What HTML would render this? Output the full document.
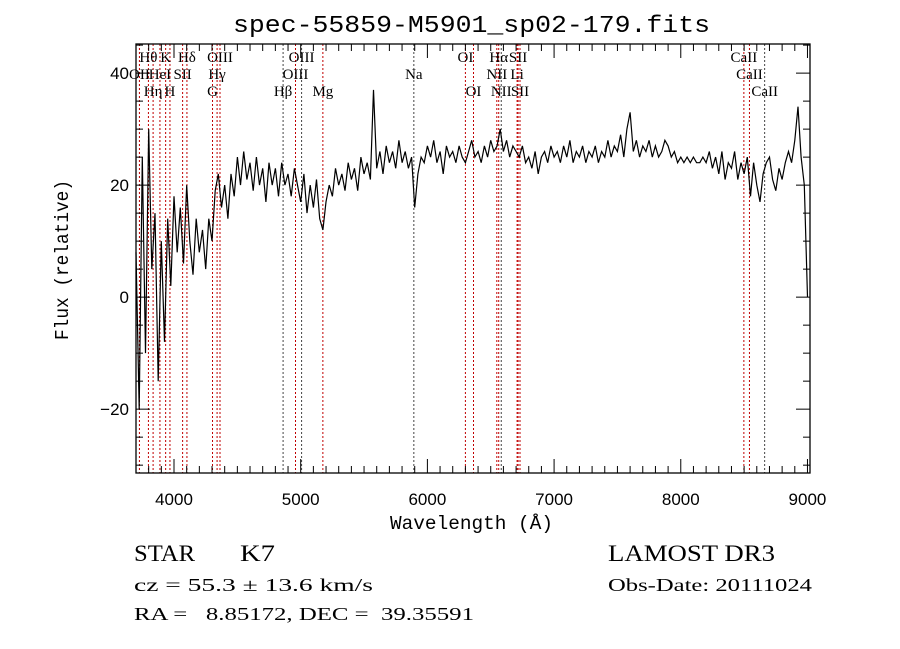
<!DOCTYPE html>
<html><head><meta charset="utf-8"><style>
html,body{margin:0;padding:0;background:#fff;}
svg{display:block;}
.t{font-family:"Liberation Serif",serif;fill:#000;}
.s{font-family:"Liberation Sans",sans-serif;fill:#000;}
.m{font-family:"Liberation Mono",monospace;fill:#000;}
</style></head><body>
<svg id="chart" width="900" height="649" viewBox="0 0 900 649" xmlns="http://www.w3.org/2000/svg">
<rect width="900" height="649" fill="#fff"/>
<text x="233" y="32" class="m" font-size="24" textLength="477" lengthAdjust="spacingAndGlyphs">spec-55859-M5901_sp02-179.fits</text>
<g id="lines"></g>
<g id="labels"></g>
<g id="ticks"></g>
<path id="spec" fill="none" stroke="#000" stroke-width="1.2"/>
<rect x="136" y="44" width="674" height="429" fill="none" stroke="#000" stroke-width="1.3"/>
<text x="390" y="529" class="m" font-size="19" textLength="163" lengthAdjust="spacingAndGlyphs">Wavelength (Å)</text>
<text transform="translate(68,340) rotate(-90)" class="m" font-size="19" textLength="160" lengthAdjust="spacingAndGlyphs">Flux (relative)</text>
<text x="134" y="561" class="t" font-size="23" textLength="61" lengthAdjust="spacingAndGlyphs">STAR</text>
<text x="240" y="561" class="t" font-size="23" textLength="35" lengthAdjust="spacingAndGlyphs">K7</text>
<text x="608" y="561" class="t" font-size="23" textLength="167" lengthAdjust="spacingAndGlyphs">LAMOST DR3</text>
<text x="134" y="591" class="t" font-size="18" textLength="239" lengthAdjust="spacingAndGlyphs">cz = 55.3 ± 13.6 km/s</text>
<text x="608" y="591" class="t" font-size="18" textLength="204" lengthAdjust="spacingAndGlyphs">Obs-Date: 20111024</text>
<text x="134" y="620" class="t" font-size="18" textLength="340" lengthAdjust="spacingAndGlyphs" xml:space="preserve">RA =   8.85172, DEC =  39.35591</text>
</svg>
<script>
const wlStart = 3700;
const wlStep = 25;
const flux = [8,-20,25,-10,30,5,15,-15,10,-8,14,2,18,8,16,6,20,10,4,14,8,12,5,14,10,19,22,16,20,14,22,18,25,20,26,21,24,19,25,20,23,17,24,20,23,18,24,20,22,18,23,20,17,22,15,20,16,21,14,12,17,20,18,23,20,22,19,24,21,23,19,25,22,24,21,37,23,26,22,27,24,26,23,28,24,26,23,25,16,22,25,24,27,25,28,24,26,22,27,25,26,24,27,25,24,26,28,25,26,24,27,25,28,26,27,30,26,28,25,27,26,25,27,24,25,23,26,22,25,26,24,27,25,26,24,27,25,28,24,26,25,27,24,26,25,27,24,26,25,28,25,27,26,29,25,30,33,26,28,25,27,26,28,25,27,25,26,28,27,25,26,24,25,24,25,24,25,24,24,25,24,26,23,25,22,26,21,24,23,26,21,24,22,25,18,24,20,17,22,24,25,21,19,23,21,24,26,24,28,34,25,20,0];
const lineWl = [3727,3798,3835,3889,3934,3968,4068,4102,4304,4340,4363,4861,4959,5007,5175,5893,6300,6364,6548,6563,6583,6708,6716,6731,8498,8542,8662];
const lineName = ["OII","Hθ","Hη","HeI","K","H","SII","Hδ","G","Hγ","OIII","Hβ","OIII","OIII","Mg","Na","OI","OI","NII","Hα","NII","Li","SII","SII","CaII","CaII","CaII"];
const lineRow = [2,1,3,2,1,3,2,1,3,2,1,3,2,1,3,2,1,3,2,1,3,2,1,3,1,2,3];
const lineRed = [1,1,1,1,1,1,1,1,1,1,1,0,1,0,1,0,1,1,1,1,0,1,1,1,1,1,0];
const xTicks = [4000,5000,6000,7000,8000,9000];
const yTicks = [-20,0,20,40];
const X0=136,X1=810,Y0=44,Y1=473;
const xMin=3700,xMax=9020,yMin=-31.4,yMax=45.2;
const sx=w=>X0+(w-xMin)/(xMax-xMin)*(X1-X0);
const sy=f=>Y1-(f-yMin)/(yMax-yMin)*(Y1-Y0);
const NS="http://www.w3.org/2000/svg";
function mk(tag,attrs,parent){const e=document.createElementNS(NS,tag);for(const k in attrs)e.setAttribute(k,attrs[k]);parent.appendChild(e);return e;}
const gL=document.getElementById('lines'),gT=document.getElementById('labels'),gK=document.getElementById('ticks');
lineWl.forEach((w,i)=>{
  const x=sx(w);
  const l=mk('line',{x1:x,x2:x,y1:Y0,y2:Y1,stroke:lineRed[i]?'#c00000':'#444','stroke-width':1,'stroke-dasharray':'2,2'},gL);
  
  
  const t=mk('text',{x:x,y:[0,62,79,96][lineRow[i]],'text-anchor':'middle',class:'t','font-size':15},gT);
  t.textContent=lineName[i];
  
  
});
for(let w=3700;w<=9000;w+=100){
  const x=sx(w),big=w%1000===0,len=big?14:7;
  const a=mk('line',{x1:x,x2:x,y1:Y1,y2:Y1-len,stroke:'#000','stroke-width':1},gK);
  
  
  const b=mk('line',{x1:x,x2:x,y1:Y0,y2:Y0+len,stroke:'#000','stroke-width':1},gK);
  
  
}
xTicks.forEach(w=>{
  const t=mk('text',{x:sx(w),y:505,'text-anchor':'middle',class:'s','font-size':17},gK);
  t.textContent=w;
  
  
});
for(let f=-30;f<=45;f+=5){
  const y=sy(f),big=f%20===0,len=big?14:7;
  const a=mk('line',{x1:X0,x2:X0+len,y1:y,y2:y,stroke:'#000','stroke-width':1},gK);
  
  
  const b=mk('line',{x1:X1,x2:X1-len,y1:y,y2:y,stroke:'#000','stroke-width':1},gK);
  
  
}
yTicks.forEach(f=>{
  const t=mk('text',{x:129,y:sy(f)+6,'text-anchor':'end',class:'s','font-size':17},gK);
  t.textContent=f<0?'\u2212'+Math.abs(f):f;
  
  
});
let d='';
flux.forEach((f,i)=>{d+=(i?'L':'M')+sx(wlStart+i*wlStep).toFixed(1)+' '+sy(f).toFixed(1);});
document.getElementById('spec').setAttribute('d',d);
</script>
</body></html>
